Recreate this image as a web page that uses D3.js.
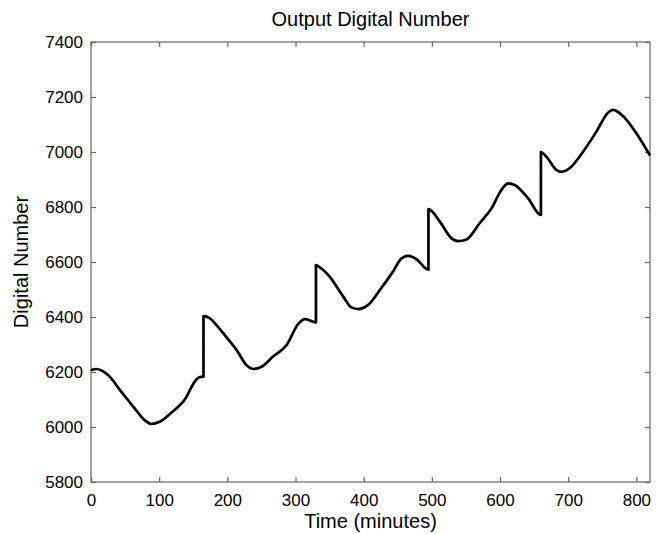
<!DOCTYPE html>
<html><head><meta charset="utf-8">
<script src="https://cdn.jsdelivr.net/npm/d3@7"></script>
<style>body{margin:0;background:#fff}svg{display:block}text{font-family:"Liberation Sans",Arial,sans-serif}</style>
</head><body>
<svg id="c" width="660" height="534"></svg>
<script>
const title = "Output Digital Number";
const xLabel = "Time (minutes)";
const yLabel = "Digital Number";
const xTicks = [0,100,200,300,400,500,600,700,800];
const yTicks = [5800,6000,6200,6400,6600,6800,7000,7200,7400];
const time = [0,7.8,25,44.5,64,78.7,88.5,100.7,117.8,137,154,159,165,
  165,174.5,186,194,213.6,228,238,250,267,287,304,314,326,330,
  330,333,350,370,382,392,406.6,423.7,443,455.5,465,477.5,492,495,
  495,511.7,528.8,538.5,550.8,570,587.5,602,611.8,621.6,641,660,
  660,668,682.7,690,702,721.8,741.4,758.4,765.7,780.4,800,820];
const dn = [6206,6211,6189,6128,6068,6025,6011,6019,6052,6098,6171,6181,6183,
  6403,6395,6365,6341,6280,6225,6211,6219,6256,6298,6375,6392,6383,6380,
  6589,6585,6547,6474,6435,6429,6444,6498,6565,6613,6622,6610,6575,6572,
  6792,6747,6686,6676,6682,6741,6795,6862,6886,6880,6832,6771,
  7000,6983,6935,6928,6941,7001,7074,7143,7153,7131,7068,6987];

const L=91,T=42,R=650,B=482;
const svg=d3.select("#c");
const x=d3.scaleLinear().domain([0,820]).range([L,R]);
const y=d3.scaleLinear().domain([5800,7400]).range([B,T]);
const axisColor="#666";

svg.append("rect").attr("x",L).attr("y",T).attr("width",R-L).attr("height",B-T)
  .attr("fill","none").attr("stroke",axisColor).attr("stroke-width",1.2);

const gx=svg.append("g").attr("transform",`translate(0,${B})`)
  .call(d3.axisBottom(x).tickValues(xTicks).tickSize(-5).tickPadding(12).tickFormat(d3.format("d")));
const gxt=svg.append("g").attr("transform",`translate(0,${T})`)
  .call(d3.axisTop(x).tickValues(xTicks).tickSize(-5).tickFormat(""));
const gy=svg.append("g").attr("transform",`translate(${L},0)`)
  .call(d3.axisLeft(y).tickValues(yTicks).tickSize(-5).tickPadding(8).tickFormat(d3.format("d")));
const gyr=svg.append("g").attr("transform",`translate(${R},0)`)
  .call(d3.axisRight(y).tickValues(yTicks).tickSize(-5).tickFormat(""));
[gx,gxt,gy,gyr].forEach(g=>{
  g.select(".domain").remove();
  g.selectAll(".tick line").attr("stroke",axisColor).attr("stroke-width",1.2);
  g.selectAll("text").attr("fill","#000").attr("font-size",17).style("font-family",'"Liberation Sans",Arial,sans-serif');
});

const pts=time.map((t,i)=>[t,dn[i]]);
svg.append("path").datum(pts)
  .attr("d",d3.line().x(d=>x(d[0])).y(d=>y(d[1])).curve(d3.curveMonotoneX))
  .attr("fill","none").attr("stroke","#000").attr("stroke-width",2.7).attr("stroke-linejoin","round");

svg.append("text").attr("x",(L+R)/2).attr("y",26).attr("text-anchor","middle")
  .attr("font-size",20).text(title);
svg.append("text").attr("x",(L+R)/2).attr("y",528).attr("text-anchor","middle")
  .attr("font-size",20).text(xLabel);
svg.append("text").attr("transform",`translate(28,${(T+B)/2}) rotate(-90)`).attr("text-anchor","middle")
  .attr("font-size",20).text(yLabel);
</script>
</body></html>
